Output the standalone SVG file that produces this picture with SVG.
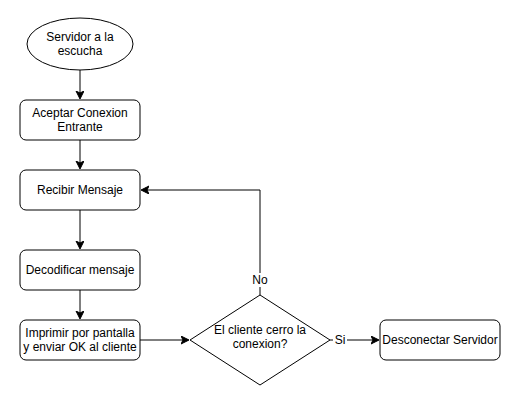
<svg xmlns="http://www.w3.org/2000/svg" width="522" height="407" viewBox="0 0 522 407">
<style>
.n{fill:#fff;stroke:#000;stroke-width:1}
.t{font-family:"Liberation Sans",Arial,sans-serif;font-size:12px;fill:#000;text-anchor:middle}
.c{fill:none;stroke:#000;stroke-width:1}
</style>
<defs>
<marker id="a" markerWidth="10" markerHeight="10" refX="7" refY="4" orient="auto" markerUnits="userSpaceOnUse">
<path d="M0,0 L8,4 L0,8 L2,4 Z" fill="#000" stroke="#000" stroke-width="1"/>
</marker>
</defs>
<rect width="522" height="407" fill="#fff"/>
<g id="connectors">
<path class="c" d="M80,70 V98" marker-end="url(#a)"/>
<path class="c" d="M80,140 V168" marker-end="url(#a)"/>
<path class="c" d="M80,210 V248" marker-end="url(#a)"/>
<path class="c" d="M80,290 V318" marker-end="url(#a)"/>
<path class="c" d="M140,340 H188" marker-end="url(#a)"/>
<path class="c" d="M330,340 H378" marker-end="url(#a)"/>
<path class="c" d="M260,295 V190 H142" marker-end="url(#a)"/>
<rect x="251" y="273" width="18" height="14" fill="#fff"/>
<text class="t" x="260" y="284">No</text>
<rect x="333" y="334" width="14" height="13" fill="#fff"/>
<text class="t" x="340" y="344">Si</text>
</g>
<g id="start">
<ellipse class="n" cx="80" cy="44" rx="53" ry="26"/>
<text class="t" x="80" y="41">Servidor a la</text>
<text class="t" x="80" y="55">escucha</text>
</g>
<g id="aceptar">
<rect class="n" x="20" y="100" width="120" height="40" rx="6"/>
<text class="t" x="80" y="117">Aceptar Conexion</text>
<text class="t" x="80" y="131">Entrante</text>
</g>
<g id="recibir">
<rect class="n" x="20" y="170" width="120" height="40" rx="6"/>
<text class="t" x="80" y="194">Recibir Mensaje</text>
</g>
<g id="decodificar">
<rect class="n" x="20" y="250" width="120" height="40" rx="6"/>
<text class="t" x="80" y="274">Decodificar mensaje</text>
</g>
<g id="imprimir">
<rect class="n" x="20" y="320" width="120" height="40" rx="6"/>
<text class="t" x="80" y="337">Imprimir por pantalla</text>
<text class="t" x="80" y="351">y enviar OK al cliente</text>
</g>
<g id="decision">
<path class="n" d="M260,295 L330,340 L260,385 L190,340 Z"/>
<text class="t" x="260" y="334">El cliente cerro la</text>
<text class="t" x="260" y="348">conexion?</text>
</g>
<g id="desconectar">
<rect class="n" x="380" y="320" width="120" height="40" rx="6"/>
<text class="t" x="440" y="344">Desconectar Servidor</text>
</g>
</svg>
